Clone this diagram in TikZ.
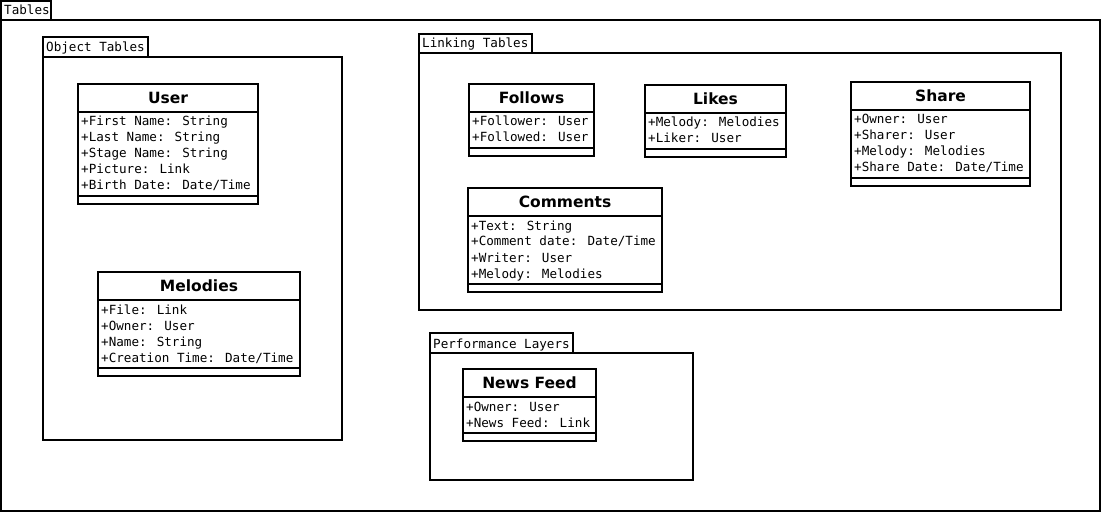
\documentclass[tikz,border=0pt]{standalone}
\usepackage{fontspec}
\newfontfamily\monof{DejaVu Sans Mono}
\newfontfamily\titlef{DejaVu Sans}
\tikzset{
  box/.style={draw=black, line width=1.8pt},
  titletext/.style={font=\titlef\bfseries\fontsize{15.5}{18}\selectfont, inner sep=0pt},
  rowtext/.style={font=\monof\fontsize{12.6}{16}\selectfont, inner sep=0pt},
}
% class: #1 name, #2 x1, #3 y1, #4 x2, #5 ysep, #6 ybot, #7 y2, #8 title, #9 rows
\newcommand\umlclass[9]{%
  \draw[box, fill=white] (#2,#3) rectangle (#4,#7);
  \draw[box] (#2,#5) -- (#4,#5);
  \draw[box] (#2,#6) -- (#4,#6);
  \node[titletext, anchor=base] (#1) at ({(#2+#4)/2},{#5-8.5}) {#8};
  \foreach \r [count=\i from 0] in {#9} {
    \node[rowtext, anchor=base west] (#1-\i) at ({#2+3},{#5+14+16*\i}) {\r};
  }
}
% package: #1 name, #2 x1, #3 ytab, #4 xtab2, #5 ytop, #6 x2, #7 y2, #8 label
\newcommand\umlpackage[8]{%
  \draw[box] (#2,#3) rectangle (#4,#5);
  \draw[box] (#2,#5) rectangle (#6,#7);
  \node[rowtext, anchor=base west] (#1) at ({#2+3},{#5-5}) {#8};
}
\begin{document}
\begin{tikzpicture}[x=1pt, y=-1pt]
\useasboundingbox (0,0) rectangle (1103,513);
\umlpackage{tables}{1}{1}{51}{20}{1100}{511}{Tables}
\umlpackage{objtables}{43}{37}{148}{57}{342}{440}{Object Tables}
\umlpackage{linktables}{419}{34}{532}{53}{1061}{310}{Linking Tables}
\umlpackage{perflayers}{430}{333}{573}{353}{693}{480}{Performance Layers}

\umlclass{user}{78}{84}{258}{112}{196}{204}{User}{+First Name: String,+Last Name: String,+Stage Name: String,+Picture: Link,+Birth Date: Date/Time}
\umlclass{melodies}{98}{272}{300}{300}{368}{376}{Melodies}{+File: Link,+Owner: User,+Name: String,+Creation Time: Date/Time}
\umlclass{follows}{469}{84}{594}{112}{148}{156}{Follows}{+Follower: User,+Followed: User}
\umlclass{likes}{645}{85}{786}{113}{149}{157}{Likes}{+Melody: Melodies,+Liker: User}
\umlclass{share}{851}{82}{1030}{110}{178}{186}{Share}{+Owner: User,+Sharer: User,+Melody: Melodies,+Share Date: Date/Time}
\umlclass{comments}{468}{188}{662}{216}{284}{292}{Comments}{+Text: String,+Comment date: Date/Time,+Writer: User,+Melody: Melodies}
\umlclass{newsfeed}{463}{369}{596}{397}{433}{441}{News Feed}{+Owner: User,+News Feed: Link}
\end{tikzpicture}
\end{document}
